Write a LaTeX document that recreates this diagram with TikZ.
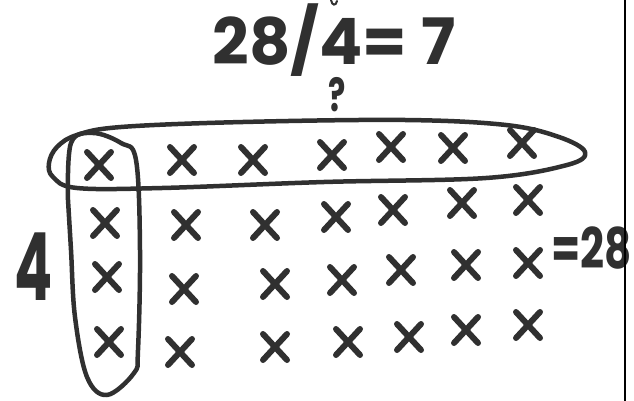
\documentclass[tikz,border=0pt]{standalone}
\usepackage{fontspec}
\setmainfont{Poppins}
\definecolor{ink}{RGB}{48,48,48}
\tikzset{
  xline/.style={draw=ink,line width=6pt,line cap=round},
  loopline/.style={draw=ink,line width=4.5pt,line cap=round,line join=round},
  hand/.style={text=ink,inner sep=0pt,font=\bfseries},
  xmk/.pic={\path[xline] (-12,-13) -- (12,13) (12,-13) -- (-12,13);}
}
\begin{document}
\begin{tikzpicture}[x=1pt,y=-1pt]
\useasboundingbox (0,0) rectangle (634,401);
\fill[white] (0,0) rectangle (634,401);
% title
\node[hand,anchor=base,text depth=0pt,font=\bfseries\fontsize{64}{64}\selectfont] (title) at (334,65) {28/4= 7};
\node[hand,anchor=base,text height=24pt,text depth=0pt,font=\bfseries\fontsize{46}{46}\selectfont] (qm) at (337,112) {\scalebox{0.7}[1]{?}};
\draw[ink,line width=2pt,line cap=round] (331,0) .. controls (332,6) and (336,6) .. (337,1);
% left 4 and right =28
\node[hand,anchor=base west,font=\bfseries\fontsize{94}{94}\selectfont] (four) at (14,300) {\scalebox{0.6}[1]{4}};
\node[hand,anchor=base east,font=\bfseries\fontsize{56}{56}\selectfont] (res) at (632,268) {\scalebox{0.75}[1]{=28}};
% x marks
\foreach \x/\y in {99/165,182/160,253/160,332/155,391/147,453/148,522/143,
                   105/223,186/225,265/225,336/217,393/210,462/203,528/200,
                   107/277,184/289,275/284,342/280,401/270,466/265,528/263,
                   109/342,180/352,275/347,348/342,409/337,466/330,528/325}
  \pic at (\x,\y) {xmk};
% horizontal loop (row of 7)
\draw[loopline] plot[smooth cycle,tension=0.6] coordinates {
  (77,135) (121,127) (243,122) (405,120) (506,125) (559,137) (585,152)
  (567,165) (486,178) (324,182) (162,188) (77,188) (53,177) (49,163) (57,147)};
% vertical loop (column of 4)
\draw[loopline] plot[smooth,tension=0.6] coordinates {
  (68,200) (71,143) (93,133) (121,143) (136,160) (140,250) (138,350)
  (134,373) (107,395) (87,377) (75,317) (71,250) (68,200)};
% right border line
\draw[black,line width=1.8pt] (625,0) -- (625,401);
\end{tikzpicture}
\end{document}
